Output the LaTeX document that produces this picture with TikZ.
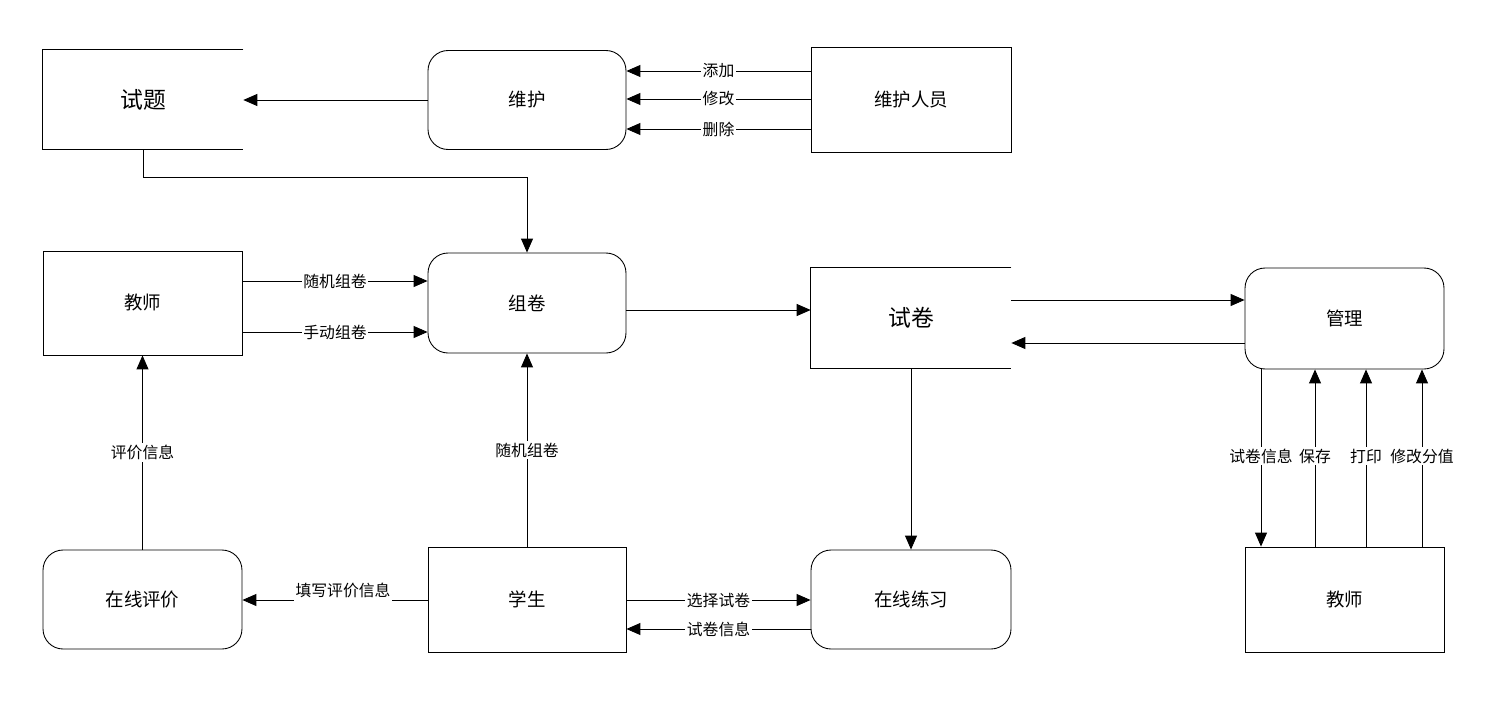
\documentclass[tikz,border=0pt]{standalone}
\usepackage{fontspec}
\newfontfamily\cjk{Noto Sans CJK SC}
\usetikzlibrary{arrows.meta}
\begin{document}
\begin{tikzpicture}[x=0.02cm,y=-0.02cm,
  every node/.style={font=\cjk},
  box/.style={draw,line width=0.5pt,minimum width=4cm,minimum height=2.1cm,inner sep=0pt,font=\cjk\fontsize{10.5}{12}\selectfont},
  rbox/.style={draw,line width=0.5pt,rounded corners=0.4cm,minimum width=3.96cm,minimum height=1.98cm,inner sep=0pt,font=\cjk\fontsize{10.5}{12}\selectfont},
  store/.style={minimum width=4cm,minimum height=2cm,inner sep=0pt,font=\cjk\fontsize{13}{15}\selectfont},
  storeline/.style={line width=0.5pt},
  arr/.style={line width=0.5pt,-{Triangle[length=0.28cm,width=0.24cm]}},
  lab/.style={fill=white,inner xsep=1pt,inner ysep=1pt,font=\cjk\fontsize{9}{10}\selectfont}]
\useasboundingbox (0,0) rectangle (1503,706);

% nodes
\node[store] (shiti) at (143,99.5) {试题};
\draw[storeline] (shiti.north east) -- (shiti.north west) -- (shiti.south west) -- (shiti.south east);
\node[rbox] (weihu) at (527,100) {维护};
\node[box,minimum height=2.1cm] (weihuren) at (911,99.5) {维护人员};
\node[box,minimum width=3.98cm,minimum height=2.08cm] (jiaoshiA) at (142.5,303) {教师};
\node[rbox,minimum height=2cm] (zujuan) at (527,303) {组卷};
\node[store] (shijuan) at (911,318) {试卷};
\draw[storeline] (shijuan.north east) -- (shijuan.north west) -- (shijuan.south west) -- (shijuan.south east);
\node[rbox,minimum width=3.98cm,minimum height=2.02cm] (guanli) at (1344.5,318.5) {管理};
\node[rbox,minimum width=3.98cm] (pingjia) at (142.5,599.5) {在线评价};
\node[box,minimum width=3.96cm] (xuesheng) at (527,599.5) {学生};
\node[rbox,minimum width=4cm] (lianxi) at (911,599.5) {在线练习};
\node[box,minimum width=3.98cm] (jiaoshiB) at (1344.5,599.5) {教师};

% helper rows / columns
\coordinate (r71) at (0,71);
\coordinate (r99) at (0,99);
\coordinate (r129) at (0,129);
\coordinate (r177) at (0,177);
\coordinate (r281) at (0,281);
\coordinate (r332) at (0,332);
\coordinate (r300) at (0,300);
\coordinate (r310) at (0,310);
\coordinate (r343) at (0,343);
\coordinate (r600) at (0,600);
\coordinate (r629) at (0,629);
\coordinate (c1261) at (1261,0);
\coordinate (c1315) at (1315,0);
\coordinate (c1366) at (1366,0);
\coordinate (c1422) at (1422,0);

% top row
\draw[arr] (weihu.west) -- (shiti.east |- weihu.west);
\draw[arr] (weihuren.west |- r71) -- node[lab]{添加} (weihu.east |- r71);
\draw[arr] (weihuren.west |- r99) -- node[lab]{修改} (weihu.east |- r99);
\draw[arr] (weihuren.west |- r129) -- node[lab]{删除} (weihu.east |- r129);

% 试题 -> 组卷
\draw[arr] (shiti.south) -- (shiti.south |- r177) -| (zujuan.north);

% 教师 -> 组卷
\draw[arr] (jiaoshiA.east |- r281) -- node[lab]{随机组卷} (zujuan.west |- r281);
\draw[arr] (jiaoshiA.east |- r332) -- node[lab]{手动组卷} (zujuan.west |- r332);

% 组卷 -> 试卷
\draw[arr] (zujuan.east |- r310) -- (shijuan.west |- r310);

% 试卷 <-> 管理
\draw[arr] (shijuan.east |- r300) -- (guanli.west |- r300);
\draw[arr] (guanli.west |- r343) -- (shijuan.east |- r343);

% 试卷 -> 在线练习
\draw[arr] (shijuan.south -| lianxi.north) -- (lianxi.north);

% 管理 <-> 教师
\draw[arr] (guanli.south -| c1261) -- node[lab,pos=0.49]{试卷信息} (jiaoshiB.north -| c1261);
\draw[arr] (jiaoshiB.north -| c1315) -- node[lab,pos=0.51]{保存} (guanli.south -| c1315);
\draw[arr] (jiaoshiB.north -| c1366) -- node[lab,pos=0.51]{打印} (guanli.south -| c1366);
\draw[arr] (jiaoshiB.north -| c1422) -- node[lab,pos=0.51]{修改分值} (guanli.south -| c1422);

% 在线评价 -> 教师
\draw[arr] (pingjia.north) -- node[lab,pos=0.5]{评价信息} (jiaoshiA.south);

% 学生 -> 组卷
\draw[arr] (xuesheng.north) -- node[lab,pos=0.5]{随机组卷} (zujuan.south);

% 学生 -> 在线评价
\draw[arr] (xuesheng.west |- r600) -- (pingjia.east |- r600);
\node[lab,inner ysep=5pt] (lbtx) at (343,590) {填写评价信息};

% 学生 <-> 在线练习
\draw[arr] (xuesheng.east |- r600) -- node[lab]{选择试卷} (lianxi.west |- r600);
\draw[arr] (lianxi.west |- r629) -- node[lab]{试卷信息} (xuesheng.east |- r629);
\end{tikzpicture}
\end{document}
